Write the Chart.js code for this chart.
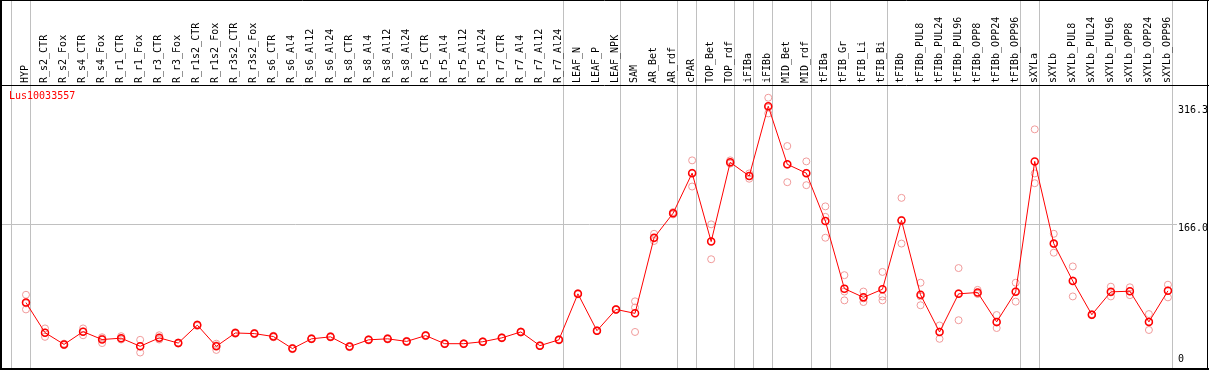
<!DOCTYPE html>
<html>
<head>
<meta charset="utf-8">
<script src="https://cdn.jsdelivr.net/npm/chart.js@4.4.1/dist/chart.umd.min.js"></script>
<style>
  body { margin: 0; background: #fff; }
  canvas { display: block; }
</style>
</head>
<body>
<canvas id="expr" width="1209" height="370"></canvas>
<script>
//data
const geneName = 'Lus10033557';

const categories = ['HYP', 'R_s2_CTR', 'R_s2_Fox', 'R_s4_CTR', 'R_s4_Fox', 'R_r1_CTR', 'R_r1_Fox',
  'R_r3_CTR', 'R_r3_Fox', 'R_r1s2_CTR', 'R_r1s2_Fox', 'R_r3s2_CTR', 'R_r3s2_Fox',
  'R_s6_CTR', 'R_s6_Al4', 'R_s6_Al12', 'R_s6_Al24', 'R_s8_CTR', 'R_s8_Al4', 'R_s8_Al12', 'R_s8_Al24',
  'R_r5_CTR', 'R_r5_Al4', 'R_r5_Al12', 'R_r5_Al24', 'R_r7_CTR', 'R_r7_Al4', 'R_r7_Al12', 'R_r7_Al24',
  'LEAF_N', 'LEAF_P', 'LEAF_NPK', 'SAM', 'AR_Bet', 'AR_rdf', 'cPAR', 'TOP_Bet', 'TOP_rdf',
  'iFIBa', 'iFIBb', 'MID_Bet', 'MID_rdf', 'tFIBa', 'tFIB_Gr', 'tFIB_Li', 'tFIB_Bi', 'tFIBb',
  'tFIBb_PUL8', 'tFIBb_PUL24', 'tFIBb_PUL96', 'tFIBb_OPP8', 'tFIBb_OPP24', 'tFIBb_OPP96',
  'sXYLa', 'sXYLb', 'sXYLb_PUL8', 'sXYLb_PUL24', 'sXYLb_PUL96', 'sXYLb_OPP8', 'sXYLb_OPP24', 'sXYLb_OPP96'];

const means = [67.1, 28.9, 14.0, 30.2, 20.2, 21.9, 11.6, 22.3, 15.7, 38.5, 11.6, 28.5, 27.7,
  24.0, 8.7, 21.1, 23.6, 11.2, 19.8, 21.1, 17.8, 25.2, 14.9, 14.9, 17.4, 22.3, 29.8, 12.4, 19.8,
  78.2, 31.4, 58.4, 53.4, 149.4, 180.5, 231.4, 144.5, 245.1, 227.7, 316.3, 242.6, 231.4,
  170.6, 84.8, 73.7, 84.0, 171.4, 77.0, 29.8, 78.2, 79.9, 42.6, 80.7,
  246.3, 142.0, 94.4, 51.7, 80.7, 81.5, 42.6, 82.0];

const rep1 = [77.0, 34.3, 15.0, 34.3, 23.1, 24.4, 19.8, 25.6, 16.5, 39.5, 14.9, 29.5, 28.5,
  25.0, 9.5, 22.0, 24.5, 12.0, 20.5, 22.0, 18.5, 26.0, 15.5, 15.5, 18.0, 23.0, 30.5, 13.0, 20.5,
  79.0, 32.0, 59.0, 68.7, 154.4, 182.0, 247.6, 166.4, 247.6, 231.0, 327.1, 265.8, 246.3,
  189.2, 101.9, 81.1, 106.0, 200.0, 92.3, 38.0, 110.9, 83.2, 51.3, 92.3,
  287.0, 154.4, 113.0, 52.5, 87.3, 86.5, 52.5, 89.8];

const rep2 = [58.4, 23.6, 13.0, 25.6, 15.7, 20.2, 3.7, 20.2, 15.0, 37.5, 7.0, 27.5, 27.0,
  23.0, 8.0, 20.5, 22.8, 10.5, 19.0, 20.3, 17.0, 24.5, 14.3, 14.3, 16.8, 21.6, 29.0, 11.8, 19.0,
  77.5, 30.8, 57.8, 60.9, 145.3, 179.0, 214.4, 122.1, 243.5, 224.3, 307.2, 219.9, 216.1,
  175.9, 81.1, 67.8, 74.9, 142.0, 63.7, 21.1, 44.7, 78.2, 34.8, 68.3,
  231.0, 130.4, 74.9, 51.0, 74.9, 76.5, 32.3, 73.7];

const rep3 = [66.0, 29.0, 14.0, 30.5, 21.5, 21.0, 11.5, 21.0, 15.5, 38.5, 12.8, 28.5, 27.5,
  24.0, 8.5, 21.0, 23.5, 11.0, 20.0, 21.0, 18.0, 25.0, 15.0, 15.0, 17.4, 22.3, 30.0, 12.4, 20.0,
  78.0, 31.4, 58.4, 29.8, 148.5, 180.5, 232.0, 145.0, 244.2, 227.8, 314.6, 242.0, 231.8,
  149.4, 69.9, 72.5, 69.9, 172.0, 75.0, 30.3, 79.0, 78.3, 41.7, 81.5,
  218.6, 141.2, 95.3, 51.6, 79.9, 81.5, 43.0, 82.5];

// group separators sit just after these categories
const separators = [-1, 0, 28, 31, 34, 35, 37, 38, 39, 41, 42, 45, 52, 53, 60];

const yTicks = [0, 166.0, 316.3];
const yTickLabels = ['0', '166.0', '316.3'];

const mono = 'DejaVu Sans Mono';
const pts = arr => arr.map((v, i) => ({ x: i, y: v }));

const repStyle = {
  type: 'scatter',
  showLine: false,
  pointRadius: 3.5,
  pointBorderWidth: 1,
  pointBorderColor: '#f09a9a',
  pointBackgroundColor: 'rgba(0,0,0,0)',
  order: 2
};

//frame, separators, labels
const decor = {
  id: 'decor',
  beforeDatasetsDraw(chart) {
    const ctx = chart.ctx, xs = chart.scales.x;
    ctx.save();
    ctx.strokeStyle = '#c0c0c0';
    ctx.lineWidth = 1;
    separators.forEach(s => {
      const x = Math.round(xs.getPixelForValue(s + 0.22)) + 0.5;
      ctx.beginPath();
      ctx.moveTo(x, 0);
      ctx.lineTo(x, chart.height);
      ctx.stroke();
    });
    ctx.restore();
  },
  afterDraw(chart) {
    const ctx = chart.ctx, xs = chart.scales.x, area = chart.chartArea;
    ctx.save();
    // category labels, rotated
    ctx.fillStyle = '#000';
    ctx.font = '10px "' + mono + '"';
    ctx.textAlign = 'left';
    ctx.textBaseline = 'alphabetic';
    categories.forEach((c, i) => {
      ctx.save();
      ctx.translate(xs.getPixelForValue(i) + 2, area.top - 3);
      ctx.rotate(-Math.PI / 2);
      ctx.fillText(c, 0, 0);
      ctx.restore();
    });
    // gene name
    ctx.fillStyle = '#ff0000';
    ctx.textBaseline = 'top';
    ctx.fillText(geneName, area.left + 7, area.top + 5);
    // black frame
    ctx.strokeStyle = '#000';
    ctx.lineWidth = 1;
    ctx.beginPath();
    ctx.moveTo(0, 0.5); ctx.lineTo(chart.width, 0.5);
    ctx.moveTo(0, area.top - 0.5); ctx.lineTo(chart.width, area.top - 0.5);
    ctx.moveTo(chart.width - 1.5, 0); ctx.lineTo(chart.width - 1.5, chart.height);
    ctx.stroke();
    ctx.lineWidth = 2;
    ctx.beginPath();
    ctx.moveTo(0, chart.height - 1); ctx.lineTo(chart.width, chart.height - 1);
    ctx.moveTo(1, 0); ctx.lineTo(1, chart.height);
    ctx.stroke();
    ctx.restore();
  }
};

new Chart(document.getElementById('expr'), {
  type: 'line',
  data: {
    datasets: [
      {
        label: geneName,
        data: pts(means),
        borderColor: '#ff0000',
        borderWidth: 1,
        pointRadius: 3.5,
        pointBorderWidth: 1.5,
        pointBorderColor: '#ff0000',
        pointBackgroundColor: 'rgba(0,0,0,0)',
        tension: 0,
        order: 1
      },
      Object.assign({ data: pts(rep1) }, repStyle),
      Object.assign({ data: pts(rep2) }, repStyle),
      Object.assign({ data: pts(rep3) }, repStyle)
    ]
  },
  options: {
    responsive: false,
    animation: false,
    layout: { autoPadding: false, padding: { top: 86, left: 2, right: 0, bottom: 1 } },
    plugins: { legend: { display: false }, tooltip: { enabled: false } },
    scales: {
      x: { type: 'linear', min: -1.26, max: 60.47, display: false },
      y: {
        position: 'right',
        min: -9.6,
        max: 342,
        afterBuildTicks: scale => { scale.ticks = yTicks.map(v => ({ value: v })); },
        ticks: {
          callback: v => yTickLabels[yTicks.indexOf(v)],
          font: { family: mono, size: 10 },
          color: '#000',
          padding: 1,
          labelOffset: 4
        },
        grid: {
          drawTicks: false,
          color: c => (c.tick && c.tick.value === 166.0) ? '#c0c0c0' : 'rgba(0,0,0,0)'
        },
        border: { display: false }
      }
    }
  },
  plugins: [decor]
});
</script>
</body>
</html>
